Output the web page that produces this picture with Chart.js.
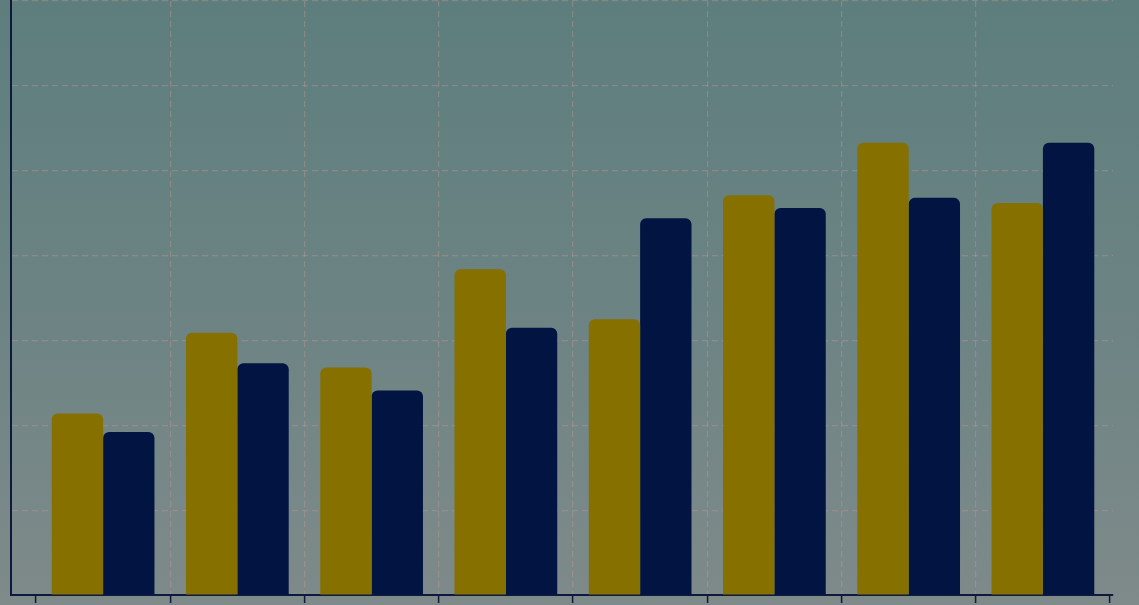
<!DOCTYPE html>
<html>
<head>
<meta charset="utf-8">
<script src="https://cdn.jsdelivr.net/npm/chart.js@4"></script>
<style>
html,body{margin:0;padding:0;background:#6e8585;}
#wrap{width:1139px;height:605px;}
</style>
</head>
<body>
<div id="wrap"><canvas id="c" width="1139" height="605"></canvas></div>
<script>
const categories = ['1','2','3','4','5','6','7','8'];
const seriesGold = [21.4, 30.9, 26.8, 38.4, 32.5, 47.1, 53.3, 46.2];
const seriesNavy = [19.2, 27.3, 24.1, 31.5, 44.4, 45.6, 46.8, 53.3];
const xTickValues = [-0.5, 0.5, 1.5, 2.5, 3.5, 4.5, 5.5, 6.5, 7.5];
const yTickValues = [0, 10, 20, 30, 40, 50, 60, 70];

const toPoints = arr => arr.map((v, i) => ({x: i, y: v}));

const bgPlugin = {
  id: 'bg',
  beforeDraw(chart) {
    const ctx = chart.ctx;
    const g = ctx.createLinearGradient(0, 0, 0, chart.height);
    g.addColorStop(0, '#5d7e7d');
    g.addColorStop(0.5, '#6c8383');
    g.addColorStop(1, '#7f8a8a');
    ctx.save();
    ctx.fillStyle = g;
    ctx.fillRect(0, 0, chart.width, chart.height);
    ctx.restore();
  }
};

const gridCol = 'rgba(200,150,150,0.4)';
const axisCol = '#0d1a3e';

new Chart(document.getElementById('c'), {
  type: 'bar',
  data: {
    labels: categories,
    datasets: [
      {data: toPoints(seriesGold), backgroundColor: '#857000', borderRadius: 6, borderSkipped: 'start'},
      {data: toPoints(seriesNavy), backgroundColor: '#021441', borderRadius: 6, borderSkipped: 'start'}
    ]
  },
  options: {
    responsive: false,
    animation: false,
    devicePixelRatio: 1,
    layout: {padding: {left: 11, right: 26, top: 1, bottom: 2}},
    plugins: {legend: {display: false}, tooltip: {enabled: false}},
    datasets: {bar: {categoryPercentage: 0.765, barPercentage: 1}},
    scales: {
      x: {
        type: 'linear',
        min: -0.686,
        max: 7.522,
        offset: false,
        afterBuildTicks(scale) { scale.ticks = xTickValues.map(v => ({value: v})); },
        ticks: {display: false},
        grid: {
          offset: false,
          drawTicks: true,
          tickLength: 8,
          color: ctx => (ctx.tick && (ctx.tick.value === xTickValues[0] || ctx.tick.value === xTickValues[xTickValues.length - 1])) ? 'rgba(0,0,0,0)' : gridCol,
          tickColor: axisCol,
          tickWidth: 1.5,
          tickBorderDash: [],
          lineWidth: 1.2
        },
        border: {display: true, color: axisCol, width: 2, dash: [6, 4]}
      },
      y: {
        min: 0,
        max: 70,
        afterBuildTicks(scale) { scale.ticks = yTickValues.map(v => ({value: v})); },
        ticks: {display: false},
        grid: {drawTicks: false, color: gridCol, lineWidth: 1.2},
        border: {display: true, color: axisCol, width: 2, dash: [6, 4]}
      }
    }
  },
  plugins: [bgPlugin]
});
</script>
</body>
</html>
